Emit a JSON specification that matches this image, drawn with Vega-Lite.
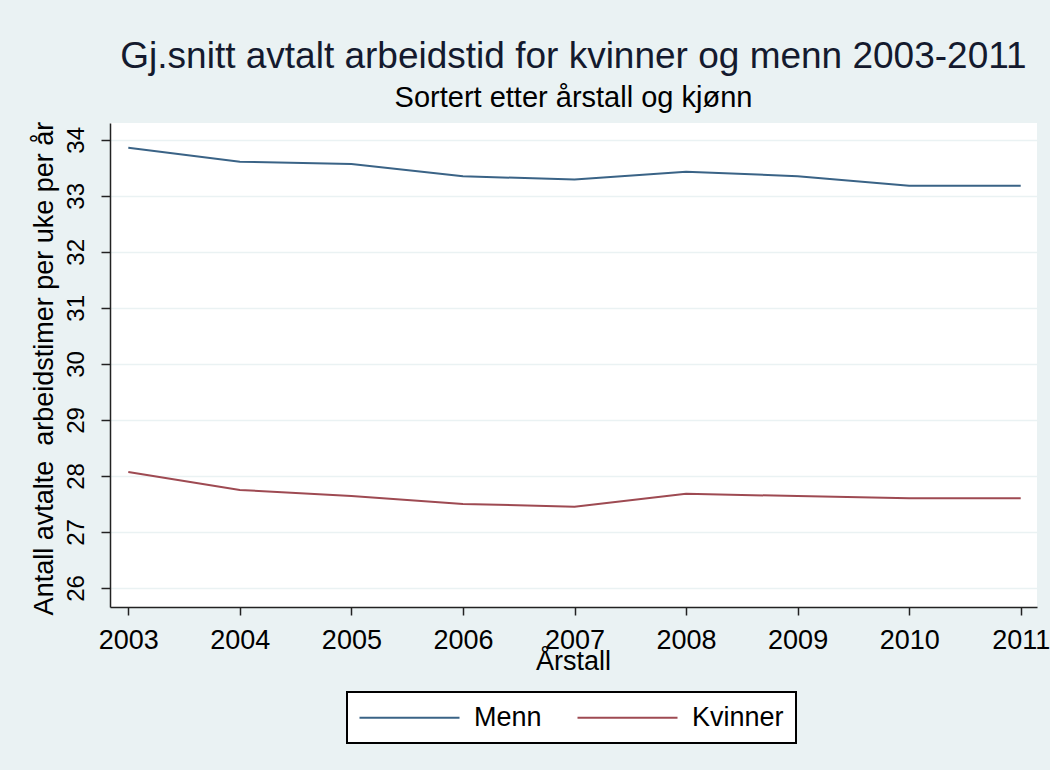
{
  "$schema": "https://vega.github.io/schema/vega-lite/v6.json",
  "width": 927,
  "height": 484,
  "autosize": {"type": "none"},
  "padding": {"left": 110, "top": 123, "right": 13, "bottom": 163},
  "background": "#EAF2F3",
  "title": {
    "text": "Gj.snitt avtalt arbeidstid for kvinner og menn 2003-2011",
    "subtitle": "Sortert etter årstall og kjønn",
    "anchor": "middle",
    "frame": "group",
    "font": "Liberation Sans",
    "fontSize": 37,
    "fontWeight": "normal",
    "color": "#141a2e",
    "subtitleFont": "Liberation Sans",
    "subtitleFontSize": 29,
    "subtitleColor": "#000000",
    "subtitlePadding": 8,
    "offset": 7
  },
  "data": {
    "values": [
      {"year": 2003, "kjonn": "Menn", "timer": 33.86},
      {"year": 2004, "kjonn": "Menn", "timer": 33.61},
      {"year": 2005, "kjonn": "Menn", "timer": 33.57},
      {"year": 2006, "kjonn": "Menn", "timer": 33.35},
      {"year": 2007, "kjonn": "Menn", "timer": 33.29},
      {"year": 2008, "kjonn": "Menn", "timer": 33.43},
      {"year": 2009, "kjonn": "Menn", "timer": 33.35},
      {"year": 2010, "kjonn": "Menn", "timer": 33.18},
      {"year": 2011, "kjonn": "Menn", "timer": 33.18},
      {"year": 2003, "kjonn": "Kvinner", "timer": 28.07},
      {"year": 2004, "kjonn": "Kvinner", "timer": 27.75},
      {"year": 2005, "kjonn": "Kvinner", "timer": 27.64},
      {"year": 2006, "kjonn": "Kvinner", "timer": 27.50},
      {"year": 2007, "kjonn": "Kvinner", "timer": 27.45},
      {"year": 2008, "kjonn": "Kvinner", "timer": 27.68},
      {"year": 2009, "kjonn": "Kvinner", "timer": 27.64},
      {"year": 2010, "kjonn": "Kvinner", "timer": 27.60},
      {"year": 2011, "kjonn": "Kvinner", "timer": 27.60}
    ]
  },
  "mark": {"type": "line", "strokeWidth": 2},
  "encoding": {
    "x": {
      "field": "year",
      "type": "quantitative",
      "scale": {"domain": [2002.836, 2011.146], "nice": false, "zero": false},
      "axis": {
        "title": "Årstall",
        "values": [2003, 2004, 2005, 2006, 2007, 2008, 2009, 2010, 2011],
        "format": "d",
        "grid": false,
        "tickSize": 8,
        "labelPadding": 12,
        "labelFontSize": 27,
        "labelFlush": false,
        "labelOverlap": false,
        "titleFontSize": 27,
        "titleBaseline": "alphabetic",
        "titleX": 463,
        "titleY": 62,
        "titleAnchor": "middle"
      }
    },
    "y": {
      "field": "timer",
      "type": "quantitative",
      "scale": {"domain": [25.66, 34.3], "nice": false, "zero": false},
      "axis": {
        "title": "Antall avtalte\u00a0 arbeidstimer per uke per år",
        "values": [26, 27, 28, 29, 30, 31, 32, 33, 34],
        "grid": true,
        "gridColor": "#EAF2F3",
        "gridWidth": 1.5,
        "tickSize": 9,
        "labelAngle": 270,
        "labelAlign": "center",
        "labelBaseline": "bottom",
        "labelPadding": 13,
        "labelFontSize": 24,
        "labelFlush": false,
        "labelOverlap": false,
        "titleFontSize": 27,
        "titleAngle": 270,
        "titleBaseline": "alphabetic",
        "titleAlign": "center",
        "titleX": -58,
        "titleY": 245
      }
    },
    "color": {
      "field": "kjonn",
      "type": "nominal",
      "scale": {"domain": ["Menn", "Kvinner"], "range": ["#3A6386", "#9E4A52"]},
      "legend": {
        "title": null,
        "orient": "none",
        "legendX": 237,
        "legendY": 569,
        "direction": "horizontal",
        "columns": 2,
        "symbolType": "M-1.3,0H8.7",
        "symbolSize": 400,
        "symbolStrokeWidth": 2,
        "symbolFillColor": "transparent",
        "labelFontSize": 27,
        "labelOffset": 88,
        "columnPadding": 31,
        "padding": 12,
        "strokeColor": "#000000",
        "fillColor": "#FFFFFF",
        "encode": {"legend": {"update": {"strokeWidth": {"value": 2}}}}
      }
    }
  },
  "config": {
    "font": "Liberation Sans",
    "view": {"fill": "#FFFFFF", "stroke": null},
    "axis": {
      "domainColor": "#222222",
      "domainWidth": 1.5,
      "tickColor": "#222222",
      "tickWidth": 1.5,
      "labelColor": "#000000",
      "titleColor": "#000000",
      "labelFont": "Liberation Sans",
      "titleFont": "Liberation Sans",
      "titleFontWeight": "normal"
    },
    "legend": {"labelColor": "#000000", "labelFont": "Liberation Sans"}
  }
}
